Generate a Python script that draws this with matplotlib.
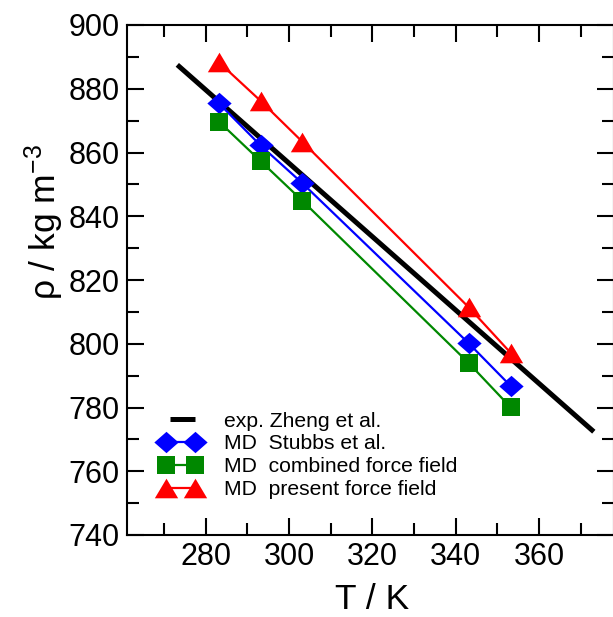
import matplotlib
matplotlib.use("Agg")
import matplotlib.pyplot as plt
from matplotlib.ticker import MultipleLocator
from matplotlib.legend_handler import HandlerLine2D

plt.rcParams['font.family'] = ['Liberation Sans', 'DejaVu Sans']
plt.rcParams['mathtext.default'] = 'regular'

# Experimental correlation (Zheng et al.), end points of the fitted line
T_exp = [273.15, 373.15]
rho_exp = [887.5, 772.4]

# Simulated temperatures
T_md = [283.15, 293.15, 303.15, 343.15, 353.15]
rho_stubbs = [875.4, 862.2, 850.4, 800.1, 786.8]
rho_combined = [869.7, 857.3, 844.9, 793.9, 780.1]
rho_present = [888.3, 876.2, 863.4, 811.4, 797.2]

x_ticks = [280, 300, 320, 340, 360]
y_ticks = [740, 760, 780, 800, 820, 840, 860, 880, 900]

W, H = 613, 617
fig = plt.figure(figsize=(W / 100, H / 100), dpi=100)
ax = fig.add_axes([126.7 / W, 82 / H, (614 - 126.7) / W, 510 / H])

diamond = [(-1, 0), (0, -0.88), (1, 0), (0, 0.88), (-1, 0)]
triangle = [(-1, -0.84), (1, -0.84), (0, 0.84), (-1, -0.84)]

ax.plot(T_exp, rho_exp, color='black', lw=3.6, solid_capstyle='butt',
        label='exp. Zheng et al.', zorder=3)
ax.plot(T_md, rho_stubbs, color='#0000ff', lw=1.6, marker=diamond, ms=17.5,
        mew=0, label='MD  Stubbs et al.', zorder=4)
ax.plot(T_md, rho_combined, color='#008800', lw=1.6, marker='s', ms=13,
        mew=0, label='MD  combined force field', zorder=4)
ax.plot(T_md, rho_present, color='#ff0000', lw=1.6, marker=triangle, ms=16.8,
        mew=0, label='MD  present force field', zorder=4)

ax.set_xlim(261, 378)
ax.set_ylim(740, 900)
ax.set_xticks(x_ticks)
ax.set_yticks(y_ticks)
ax.xaxis.set_minor_locator(MultipleLocator(10))
ax.yaxis.set_minor_locator(MultipleLocator(10))
ax.tick_params(which='both', direction='in', top=True, right=True, width=1.5)
ax.tick_params(which='major', length=12.5, labelsize=22, pad=5)
ax.tick_params(which='minor', length=8.5)
for s in ax.spines.values():
    s.set_linewidth(1.5)

ax.set_xlabel('T / K', fontsize=25.5)
ax.set_ylabel('ρ / kg m$^{-3}$', fontsize=25.5)
ax.xaxis.set_label_coords(0.504, -0.094)
ax.yaxis.set_label_coords(-0.125, 0.614)


class ShortLineHandler(HandlerLine2D):
    def create_artists(self, legend, orig_handle, xdescent, ydescent,
                       width, height, fontsize, trans):
        return super().create_artists(legend, orig_handle,
                                      xdescent - 0.1 * width, ydescent,
                                      0.9 * width, height, fontsize, trans)


handles, labels = ax.get_legend_handles_labels()
leg = ax.legend(handles, labels, loc='upper left',
                bbox_to_anchor=(0.068, 0.242), frameon=False, numpoints=2,
                fontsize=15.2, handlelength=1.95, handletextpad=1.1,
                labelspacing=0.18, borderpad=0, borderaxespad=0,
                handler_map={handles[0]: ShortLineHandler()})

fig.savefig('out.png', dpi=100)
